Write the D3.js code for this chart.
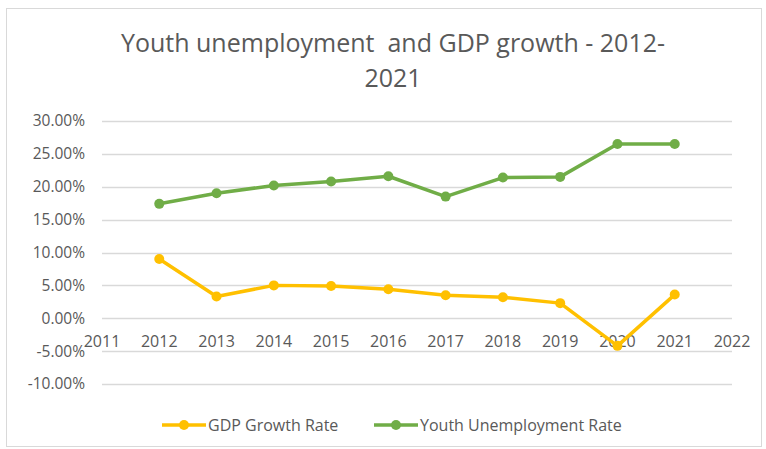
<!DOCTYPE html>
<html>
<head>
<meta charset="utf-8">
<script src="https://d3js.org/d3.v7.min.js"></script>
<style>
body { margin: 0; background: white; }
</style>
</head>
<body>
<div id="chart"></div>
<script>
/* Data */
var years = [2012, 2013, 2014, 2015, 2016, 2017, 2018, 2019, 2020, 2021];
var gdpGrowth = [9.0, 3.3, 5.0, 4.9, 4.4, 3.5, 3.2, 2.3, -4.2, 3.6];
var youthUnemployment = [17.4, 19.0, 20.2, 20.8, 21.6, 18.5, 21.4, 21.5, 26.5, 26.5];
var xTicks = [2011, 2012, 2013, 2014, 2015, 2016, 2017, 2018, 2019, 2020, 2021, 2022];
var yTicks = [-10, -5, 0, 5, 10, 15, 20, 25, 30];
var seriesNames = ["GDP Growth Rate", "Youth Unemployment Rate"];
var titleLines = ["Youth unemployment  and GDP growth - 2012-", "2021"];

var font = "'Open Sans', 'Noto Sans', sans-serif";
var textGray = "#595959";
var gridGray = "#d9d9d9";
var colors = ["#FFC000", "#70AD47"];

var svg = d3.select("#chart").append("svg")
    .attr("width", 766)
    .attr("height", 449);

/* Chart frame */
svg.append("rect")
    .attr("x", 6.5)
    .attr("y", 8.5)
    .attr("width", 755)
    .attr("height", 438)
    .attr("fill", "white")
    .attr("stroke", gridGray);

/* Title (keeps the double space of the original) */
titleLines.forEach(function(t, i) {
    svg.append("text")
        .attr("x", 393)
        .attr("y", 52 + i * 35)
        .attr("text-anchor", "middle")
        .attr("font-family", font)
        .attr("font-size", "25px")
        .attr("fill", textGray)
        .style("white-space", "pre")
        .text(t);
});

var x = d3.scaleLinear().domain([2011, 2022]).range([102, 732]);
var y = d3.scaleLinear().domain([-10, 30]).range([384, 121]);

/* Gridlines */
svg.append("g")
    .selectAll("line")
    .data(yTicks)
    .join("line")
    .attr("x1", x(2011))
    .attr("x2", x(2022))
    .attr("y1", d => Math.round(y(d)) + 0.5)
    .attr("y2", d => Math.round(y(d)) + 0.5)
    .attr("stroke", gridGray)
    .attr("stroke-width", 1.3);

/* Y axis labels */
svg.append("g")
    .selectAll("text")
    .data(yTicks)
    .join("text")
    .attr("x", 85)
    .attr("y", d => y(d))
    .attr("dy", "0.35em")
    .attr("text-anchor", "end")
    .attr("font-family", font)
    .attr("font-size", "15.5px")
    .attr("fill", textGray)
    .text(d => d.toFixed(2) + "%");

/* X axis labels, sitting right under the zero line */
svg.append("g")
    .selectAll("text")
    .data(xTicks)
    .join("text")
    .attr("x", d => x(d))
    .attr("y", y(0) + 29)
    .attr("text-anchor", "middle")
    .attr("font-family", font)
    .attr("font-size", "16px")
    .attr("fill", textGray)
    .text(d => d);

/* Series */
var line = d3.line()
    .x((d, i) => x(years[i]))
    .y(d => y(d));

[gdpGrowth, youthUnemployment].forEach(function(values, s) {
    svg.append("path")
        .datum(values)
        .attr("d", line)
        .attr("fill", "none")
        .attr("stroke", colors[s])
        .attr("stroke-width", 3.5)
        .attr("stroke-linejoin", "round");

    svg.append("g")
        .selectAll("circle")
        .data(values)
        .join("circle")
        .attr("cx", (d, i) => x(years[i]))
        .attr("cy", d => y(d))
        .attr("r", 5)
        .attr("fill", colors[s]);
});

/* Legend */
var legendX = [162, 374];
seriesNames.forEach(function(name, s) {
    var lx = legendX[s];
    svg.append("line")
        .attr("x1", lx)
        .attr("x2", lx + 44)
        .attr("y1", 425)
        .attr("y2", 425)
        .attr("stroke", colors[s])
        .attr("stroke-width", 3.5);
    svg.append("circle")
        .attr("cx", lx + 22)
        .attr("cy", 425)
        .attr("r", 5)
        .attr("fill", colors[s]);
    svg.append("text")
        .attr("x", lx + 46)
        .attr("y", 425)
        .attr("dy", "0.35em")
        .attr("font-family", font)
        .attr("font-size", "16px")
        .attr("fill", textGray)
        .text(name);
});
</script>
</body>
</html>
